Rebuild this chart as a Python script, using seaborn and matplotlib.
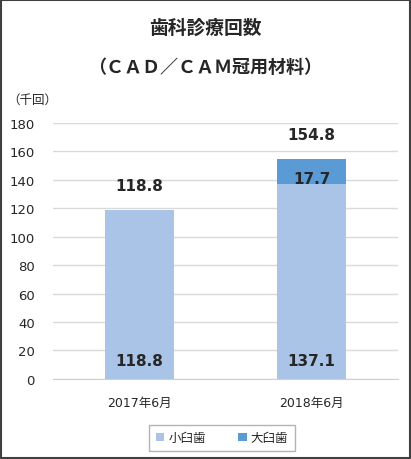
import matplotlib
matplotlib.use("Agg")
import matplotlib.pyplot as plt
import seaborn as sns
import numpy as np
from matplotlib.patches import Rectangle

# data
categories = ["2017年6月", "2018年6月"]
small_molar = [118.8, 137.1]   # 小臼歯
large_molar = [0.0, 17.7]      # 大臼歯
totals = [118.8, 154.8]
series_names = ["小臼歯", "大臼歯"]
yticks = [0, 20, 40, 60, 80, 100, 120, 140, 160, 180]

c_small = "#A9C4E6"
c_large = "#5B9BD5"

sns.set_style("white")
# DejaVu for digits (Verdana-like), CJK falls back to Noto
plt.rcParams["font.family"] = ["DejaVu Sans", "Noto Sans CJK JP"]

fig = plt.figure(figsize=(4.11, 4.6), dpi=100)
ax = fig.add_axes([0.129, 0.174, 0.839, 0.557])

sns.barplot(x=categories, y=small_molar, color=c_small, width=0.4, ax=ax,
            label=series_names[0], saturation=1, linewidth=0)
sns.barplot(x=categories, y=large_molar, bottom=small_molar, color=c_large,
            width=0.4, ax=ax, label=series_names[1], saturation=1, linewidth=0)

ax.set_ylim(0, 180)
ax.set_xlim(-0.5, 1.5)
ax.set_yticks(yticks)
ax.set_yticklabels([str(v) for v in yticks], fontsize=9.5)
ax.tick_params(axis="y", length=0, pad=13)
ax.tick_params(axis="x", length=0, pad=12, labelsize=9)
ax.set_xticks([-0.5, 0.5, 1.5], minor=True)
ax.tick_params(axis="x", which="minor", length=4, color="#D0D0D0", direction="out")
ax.yaxis.grid(True, color="#D9D9D9", lw=1)
ax.set_axisbelow(True)
for s in ["top", "right", "left"]:
    ax.spines[s].set_visible(False)
ax.spines["bottom"].set_color("#D0D0D0")
ax.set_xlabel("")
ax.set_ylabel("")

# labels
for i in range(len(categories)):
    ax.text(i, totals[i] + 17, f"{totals[i]:.1f}", ha="center", va="center",
            fontsize=11, fontweight="bold")
    ax.text(i, 13, f"{small_molar[i]:.1f}", ha="center", va="center",
            fontsize=11, fontweight="bold")
    if large_molar[i] > 0:
        ax.text(i, small_molar[i] + 3.5, f"{large_molar[i]:.1f}",
                ha="center", va="center", fontsize=11, fontweight="bold")

fig.text(0.5, 0.938, "歯科診療回数", ha="center", va="center",
         fontsize=13.5, fontweight="bold", family="Noto Sans CJK JP")
fig.text(0.5, 0.853, "（ＣＡＤ／ＣＡＭ冠用材料）", ha="center", va="center",
         fontsize=13, fontweight="bold", family="Noto Sans CJK JP")
fig.text(0.078, 0.782, "（千回）", ha="center", va="center", fontsize=9,
         family="Noto Sans CJK JP")

leg = ax.legend(loc="center", bbox_to_anchor=(0.49, -0.23), ncol=2,
                frameon=True, fancybox=False, edgecolor="#A0A0A0",
                prop={"family": "Noto Sans CJK JP", "size": 9},
                handlelength=0.7, handleheight=0.7,
                handletextpad=0.3, columnspacing=2.6, borderpad=0.55,
                borderaxespad=0)
leg.get_frame().set_linewidth(1)

fig.patches.append(Rectangle((0.002, 0.002), 0.996, 0.996, transform=fig.transFigure,
                             fill=False, edgecolor="#404040", lw=1.5))

fig.savefig("out.png", dpi=100)
